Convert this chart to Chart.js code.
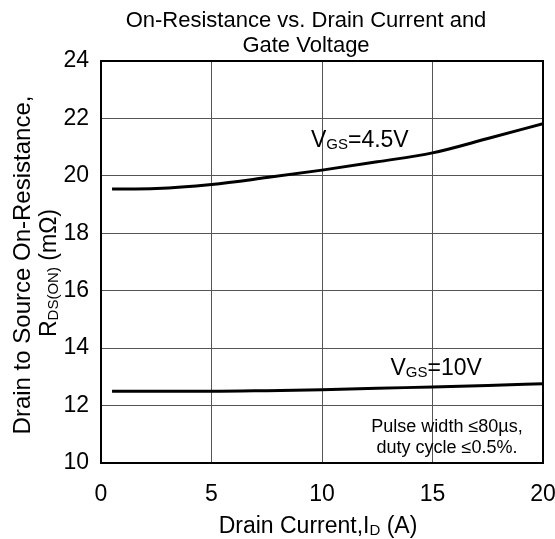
<!DOCTYPE html>
<html>
<head>
<meta charset="utf-8">
<script src="https://cdn.jsdelivr.net/npm/chart.js@4.4.1/dist/chart.umd.min.js"></script>
<style>
  html, body { margin: 0; padding: 0; background: #fff; }
  canvas { display: block; }
</style>
</head>
<body>
<canvas id="rdsChart" width="555" height="539"></canvas>
<script>
const currents = [0.5, 2.5, 5, 7.5, 10, 12.5, 15, 17.5, 20];
const rdsVgs45 = [19.54, 19.56, 19.7, 19.94, 20.2, 20.49, 20.8, 21.3, 21.82];
const rdsVgs10 = [12.5, 12.5, 12.5, 12.52, 12.55, 12.6, 12.65, 12.7, 12.76];
const xTicks = [0, 5, 10, 15, 20];
const yTicks = [10, 12, 14, 16, 18, 20, 22, 24];

const FONT = '"Liberation Sans", Arial, sans-serif';

function toPoints(xs, ys) {
    return xs.map((x, i) => ({x: x, y: ys[i]}));
}

// draws a run of text pieces, some of them subscript
function drawRich(ctx, parts, x, y, align) {
    let total = 0;
    parts.forEach(p => {
        ctx.font = p.size + 'px ' + FONT;
        p.w = ctx.measureText(p.t).width;
        total += p.w;
    });
    let cx = x;
    if (align === 'center') cx = x - total / 2;
    if (align === 'right') cx = x - total;
    ctx.textAlign = 'left';
    ctx.textBaseline = 'alphabetic';
    parts.forEach(p => {
        ctx.font = p.size + 'px ' + FONT;
        ctx.fillText(p.t, cx, y + (p.dy || 0));
        cx += p.w;
    });
}

const textPlugin = {
    id: 'textPlugin',
    afterDraw(chart) {
        const ctx = chart.ctx;
        const area = chart.chartArea;
        const xs = chart.scales.x;
        const ys = chart.scales.y;
        ctx.save();
        ctx.fillStyle = '#000';

        // frame
        ctx.strokeStyle = '#000';
        ctx.lineWidth = 2;
        ctx.strokeRect(area.left, area.top, area.right - area.left, area.bottom - area.top);

        // title
        drawRich(ctx, [{t: 'On-Resistance vs. Drain Current and', size: 22}], 306, 27, 'center');
        drawRich(ctx, [{t: 'Gate Voltage', size: 22}], 306, 52, 'center');

        // x axis title
        drawRich(ctx, [
            {t: 'Drain Current,I', size: 23},
            {t: 'D', size: 15, dy: 2},
            {t: ' (A)', size: 23}
        ], 318, 533, 'center');

        // y axis title
        ctx.save();
        ctx.translate(0, 265);
        ctx.rotate(-Math.PI / 2);
        drawRich(ctx, [{t: 'Drain to Source On-Resistance,', size: 24}], 0, 30, 'center');
        drawRich(ctx, [
            {t: 'R', size: 23},
            {t: 'DS(ON)', size: 15, dy: 2},
            {t: ' (m\u03A9)', size: 23}
        ], -8, 56, 'center');
        ctx.restore();

        // curve labels
        drawRich(ctx, [
            {t: 'V', size: 23},
            {t: 'GS', size: 15, dy: 2},
            {t: '=4.5V', size: 23}
        ], xs.getPixelForValue(9.5), ys.getPixelForValue(21.02), 'left');
        drawRich(ctx, [
            {t: 'V', size: 23},
            {t: 'GS', size: 15, dy: 2},
            {t: '=10V', size: 23}
        ], xs.getPixelForValue(13.1), ys.getPixelForValue(13.05), 'left');

        // test conditions
        drawRich(ctx, [{t: 'Pulse width \u226480\u00B5s,', size: 18}], 447, 432, 'center');
        drawRich(ctx, [{t: 'duty cycle \u22640.5%.', size: 18}], 447, 453, 'center');

        ctx.restore();
    }
};

new Chart(document.getElementById('rdsChart').getContext('2d'), {
    type: 'scatter',
    data: {
        datasets: [{
            label: 'VGS=4.5V',
            data: toPoints(currents, rdsVgs45),
            showLine: true,
            borderColor: '#000',
            borderWidth: 3,
            pointRadius: 0,
            cubicInterpolationMode: 'monotone'
        }, {
            label: 'VGS=10V',
            data: toPoints(currents, rdsVgs10),
            showLine: true,
            borderColor: '#000',
            borderWidth: 3,
            pointRadius: 0,
            cubicInterpolationMode: 'monotone'
        }]
    },
    options: {
        responsive: false,
        animation: false,
        devicePixelRatio: 1,
        layout: {padding: {top: 61, right: 12, bottom: 0, left: 0}},
        plugins: {
            legend: {display: false},
            tooltip: {enabled: false}
        },
        scales: {
            x: {
                type: 'linear',
                min: 0,
                max: 20,
                afterBuildTicks: s => { s.ticks = xTicks.map(v => ({value: v})); },
                afterFit: s => { s.height = 76; s.paddingLeft = 0; s.paddingRight = 0; },
                grid: {color: '#555', lineWidth: 1, drawTicks: false},
                border: {display: false},
                ticks: {color: '#000', padding: 18, font: {family: FONT, size: 23}}
            },
            y: {
                type: 'linear',
                min: 10,
                max: 24,
                afterBuildTicks: s => { s.ticks = yTicks.map(v => ({value: v})); },
                afterFit: s => { s.width = 101; s.paddingTop = 0; s.paddingBottom = 0; },
                grid: {color: '#555', lineWidth: 1, drawTicks: false},
                border: {display: false},
                ticks: {color: '#000', padding: 12, font: {family: FONT, size: 23}}
            }
        }
    },
    plugins: [textPlugin]
});
</script>
</body>
</html>
